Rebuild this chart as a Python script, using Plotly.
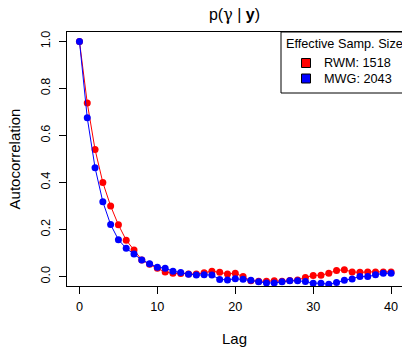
import plotly.graph_objects as go

lags = list(range(41))
rwm = [1.0, 0.738, 0.540, 0.400, 0.300, 0.220, 0.155, 0.113, 0.071, 0.052, 0.036,
       0.019, 0.014, 0.013, 0.011, 0.011, 0.016, 0.023, 0.018, 0.011, 0.014,
       0.000, -0.018, -0.020, -0.020, -0.018, -0.020, -0.017, -0.015, -0.004, 0.005,
       0.006, 0.014, 0.026, 0.029, 0.020, 0.018, 0.020, 0.020, 0.020, 0.020]
mwg = [1.0, 0.675, 0.463, 0.318, 0.221, 0.157, 0.120, 0.096, 0.071, 0.055, 0.040,
       0.036, 0.023, 0.017, 0.010, 0.007, 0.008, 0.007, -0.012, -0.014, -0.009,
       -0.011, -0.016, -0.022, -0.027, -0.027, -0.022, -0.018, -0.018, -0.021, -0.028,
       -0.028, -0.033, -0.025, -0.016, -0.010, 0.000, 0.000, 0.008, 0.014, 0.014]
series_names = ["RWM: 1518", "MWG: 2043"]
series_colors = ["#ff0000", "#0000ff"]
legend_title = "Effective Samp. Size"
x_ticks = [0, 10, 20, 30, 40]
y_ticks = [0.0, 0.2, 0.4, 0.6, 0.8, 1.0]
y_ticklabels = ["0.0", "0.2", "0.4", "0.6", "0.8", "1.0"]

FONT = "Liberation Sans, Arial, sans-serif"
W, H = 402, 347
L, R, T, B = 67, 0, 32, 61
PW, PH = W - L - R, H - T - B


def px(X):
    return (X - L) / PW


def py(Y):
    return (H - B - Y) / PH


fig = go.Figure()
for vals, name, col in zip([rwm, mwg], series_names, series_colors):
    fig.add_trace(go.Scatter(
        x=lags, y=vals, mode="lines+markers", showlegend=False,
        line=dict(color=col, width=1),
        marker=dict(color=col, size=7),
        name=name,
    ))

# R-style legend box
fig.add_shape(type="rect", xref="paper", yref="paper",
              x0=px(281), x1=px(406), y0=py(93), y1=py(32),
              line=dict(color="black", width=1), fillcolor="white", layer="above")
fig.add_annotation(xref="paper", yref="paper", x=px(283.5), y=py(43.5),
                   text=legend_title, showarrow=False, xanchor="left",
                   yanchor="middle", font=dict(size=12.7))
for i, (name, col) in enumerate(zip(series_names, series_colors)):
    cy = 63 + 15.5 * i
    fig.add_shape(type="rect", xref="paper", yref="paper",
                  x0=px(301.5), x1=px(310.5), y0=py(cy + 4.5), y1=py(cy - 4.5),
                  line=dict(color="black", width=1), fillcolor=col, layer="above")
    fig.add_annotation(xref="paper", yref="paper", x=px(321.5), y=py(cy),
                       text=name, showarrow=False, xanchor="left",
                       yanchor="middle", font=dict(size=12.7))

fig.update_layout(
    width=W, height=H,
    margin=dict(l=L, r=R, t=T, b=B, autoexpand=False),
    paper_bgcolor="white", plot_bgcolor="white",
    font=dict(family=FONT, size=12.7, color="black"),
    showlegend=False,
    title=dict(
        text="p(<span style='font-family:DejaVu Serif, serif'>γ</span> | <b>y</b>)",
        xref="paper", x=0.5, xanchor="center", y=1 - 14 / H, yanchor="middle",
        font=dict(size=16, color="black"),
    ),
    xaxis=dict(
        range=[-1.6, 41.4], tickvals=x_ticks, ticks="outside", ticklen=7,
        tickcolor="black", showline=True, linecolor="black", linewidth=1,
        mirror=True, showgrid=False, zeroline=False, automargin=False,
        ticklabelstandoff=2,
        title=dict(text="Lag", standoff=22),
    ),
    yaxis=dict(
        range=[-0.04, 1.04], tickvals=y_ticks, ticktext=y_ticklabels,
        tickangle=-90, ticks="outside", ticklen=7, tickcolor="black",
        showline=True, linecolor="black", linewidth=1, mirror=False,
        showgrid=False, zeroline=False, automargin=False,
        ticklabelstandoff=4,
        title=dict(text="Autocorrelation", standoff=14),
    ),
)

fig.write_html("out.html",
               config={"displayModeBar": False},
               post_script="document.body.style.margin='0';"
                           "document.body.style.padding='0';")
